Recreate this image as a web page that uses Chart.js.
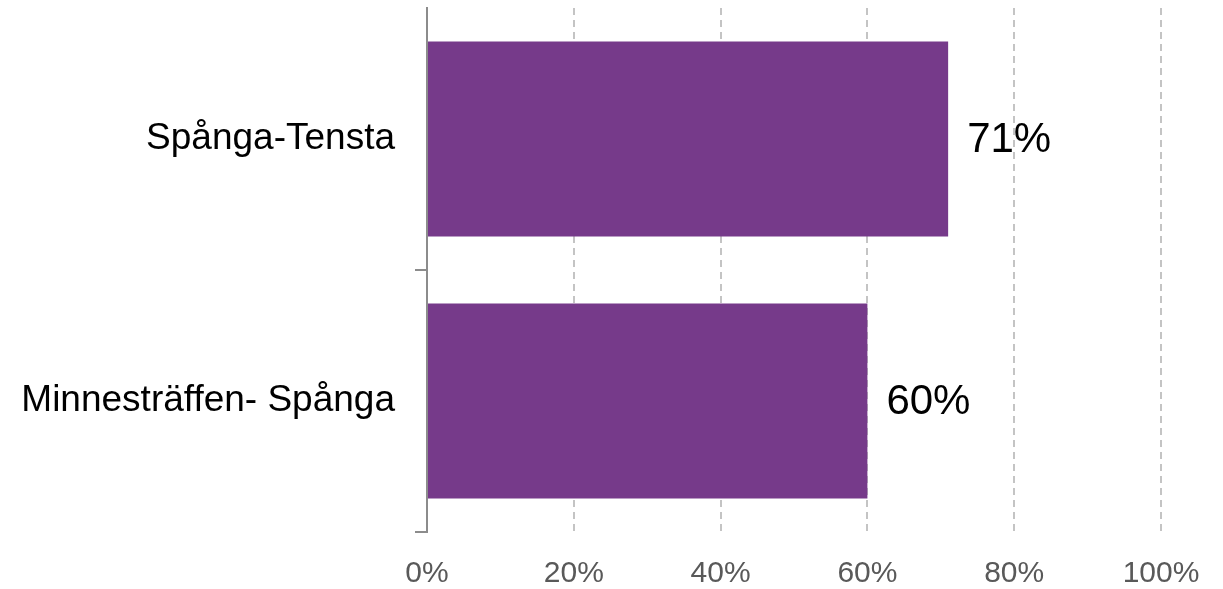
<!DOCTYPE html>
<html>
<head>
<meta charset="utf-8">
<script src="https://cdn.jsdelivr.net/npm/chart.js@4/dist/chart.umd.min.js"></script>
<style>
    html, body { margin: 0; padding: 0; background: #fff; }
    #wrap { width: 1223px; height: 589px; }
</style>
</head>
<body>
<div id="wrap"><canvas id="chart" width="1223" height="589"></canvas></div>
<script>
// 數據
const categories = ['Spånga-Tensta', 'Minnesträffen- Spånga'];
const values = [71, 60];
const xTicks = [0, 20, 40, 60, 80, 100];

const barColor = '#763A8A';

// 在條形末端繪製數值標籤
const valueLabels = {
    id: 'valueLabels',
    afterDatasetsDraw(chart) {
        const ctx = chart.ctx;
        const meta = chart.getDatasetMeta(0);
        ctx.save();
        ctx.font = '42px "Liberation Sans", Arial, sans-serif';
        ctx.fillStyle = '#000';
        ctx.textAlign = 'left';
        ctx.textBaseline = 'middle';
        meta.data.forEach((bar, i) => {
            ctx.fillText(values[i] + '%', bar.x + 19, bar.y + 1);
        });
        ctx.restore();
    }
};

new Chart(document.getElementById('chart').getContext('2d'), {
    type: 'bar',
    data: {
        labels: categories,
        datasets: [{
            data: values,
            backgroundColor: barColor,
            borderWidth: 0,
            barPercentage: 0.745,
            categoryPercentage: 1
        }]
    },
    options: {
        indexAxis: 'y',
        responsive: false,
        animation: false,
        layout: { padding: { top: 8, right: 62, left: 0, bottom: 0 } },
        plugins: {
            legend: { display: false },
            tooltip: { enabled: false }
        },
        scales: {
            x: {
                min: 0,
                max: 100,
                afterBuildTicks(scale) {
                    scale.ticks = xTicks.map(v => ({ value: v }));
                },
                afterFit(scale) {
                    scale.height = 57;
                    scale.paddingLeft = 0;
                    scale.paddingRight = 0;
                },
                ticks: {
                    callback: v => v + '%',
                    color: '#595959',
                    font: { family: '"Liberation Sans", Arial, sans-serif', size: 30 },
                    padding: 24,
                    maxRotation: 0
                },
                grid: {
                    drawTicks: false,
                    lineWidth: 2,
                    color: ctx => ctx.index === 0 ? 'rgba(0,0,0,0)' : '#c4c4c4'
                },
                border: { display: false, dash: [7, 5] }
            },
            y: {
                afterFit(scale) {
                    scale.width = 427;
                    scale.paddingTop = 0;
                    scale.paddingBottom = 0;
                },
                ticks: {
                    color: '#000',
                    font: { family: '"Liberation Sans", Arial, sans-serif', size: 37 },
                    padding: 20
                },
                grid: {
                    drawOnChartArea: false,
                    drawTicks: true,
                    tickLength: 12,
                    lineWidth: 2,
                    color: ctx => ctx.index === 0 ? 'rgba(0,0,0,0)' : '#8c8c8c'
                },
                border: { display: true, color: '#8c8c8c', width: 2 }
            }
        }
    },
    plugins: [valueLabels]
});
</script>
</body>
</html>
